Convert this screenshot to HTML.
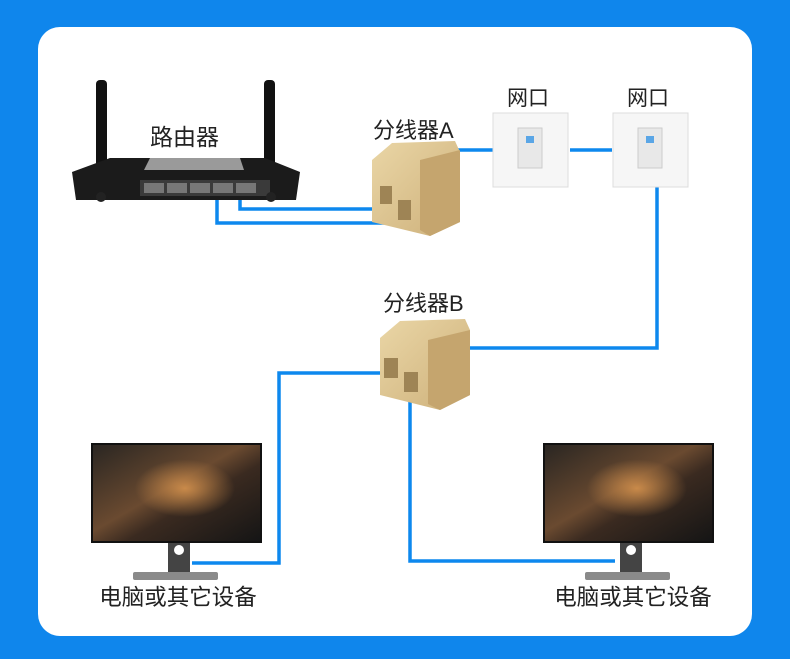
<!DOCTYPE html>
<html><head><meta charset="utf-8"><style>
html,body{margin:0;padding:0;background:#0f86ec;}
svg{display:block}
text{font-family:"Liberation Sans","Noto Sans CJK SC",sans-serif;fill:#222}
</style></head><body>
<svg width="790" height="659" viewBox="0 0 790 659" xmlns="http://www.w3.org/2000/svg">
<defs>
<linearGradient id="scr" x1="0" y1="0" x2="1" y2="1">
<stop offset="0" stop-color="#2a2622"/><stop offset="0.45" stop-color="#6a4a30"/><stop offset="0.6" stop-color="#3a2a20"/><stop offset="1" stop-color="#151515"/></linearGradient>
<radialGradient id="glow" cx="0.55" cy="0.45" r="0.3"><stop offset="0" stop-color="#c98a4a"/><stop offset="1" stop-color="#c98a4a" stop-opacity="0"/></radialGradient>
<linearGradient id="beige" x1="0" y1="0" x2="1" y2="1"><stop offset="0" stop-color="#ead6a6"/><stop offset="1" stop-color="#cdb07a"/></linearGradient>
</defs>
<rect x="0" y="0" width="790" height="659" fill="#0f86ec"/>
<rect x="38" y="27" width="714" height="609" rx="22" fill="#fff"/>

<g fill="none" stroke="#0d88ee" stroke-width="3.5">
<polyline points="240,193 240,209 390,209"/>
<polyline points="217,193 217,223 408,223"/>
<line x1="455" y1="150" x2="493" y2="150"/>
<line x1="570" y1="150" x2="612" y2="150"/>
<polyline points="657,187 657,348 470,348"/>
<polyline points="396,373 279,373 279,563 192,563"/>
<polyline points="410,385 410,561 615,561"/>
</g>

<rect x="96" y="80" width="11" height="120" rx="4" fill="#111"/>
<rect x="264" y="80" width="11" height="120" rx="4" fill="#111"/>
<polygon points="110,158 265,158 300,172 296,200 76,200 72,172" fill="#1b1b1b"/>
<polygon points="150,158 240,158 244,170 144,170" fill="#9a9a9a"/>
<rect x="140" y="180" width="130" height="16" fill="#3a3a3a"/>
<g fill="#777"><rect x="144" y="183" width="20" height="10"/><rect x="167" y="183" width="20" height="10"/><rect x="190" y="183" width="20" height="10"/><rect x="213" y="183" width="20" height="10"/><rect x="236" y="183" width="20" height="10"/></g>
<circle cx="101" cy="197" r="5" fill="#222"/><circle cx="271" cy="197" r="5" fill="#222"/>
<text x="150" y="145" font-size="23">路由器</text>

<polygon points="372,160 392,143 455,141 460,152 445,160 460,170 460,222 430,236 372,222" fill="url(#beige)"/>
<polygon points="420,160 460,150 460,222 430,236 420,230" fill="#c5a56e"/>
<rect x="380" y="186" width="12" height="18" fill="#9e8455"/>
<rect x="398" y="200" width="13" height="20" fill="#9e8455"/>
<text x="373" y="138" font-size="22">分线器A</text>

<rect x="493" y="113" width="75" height="74" fill="#f6f6f6" stroke="#ddd"/>
<rect x="518" y="128" width="24" height="40" fill="#e8e8e8" stroke="#ccc"/>
<rect x="526" y="136" width="8" height="7" fill="#5aa6e6"/>
<rect x="613" y="113" width="75" height="74" fill="#f6f6f6" stroke="#ddd"/>
<rect x="638" y="128" width="24" height="40" fill="#e8e8e8" stroke="#ccc"/>
<rect x="646" y="136" width="8" height="7" fill="#5aa6e6"/>
<text x="528" y="105" font-size="21" text-anchor="middle">网口</text>
<text x="648" y="105" font-size="21" text-anchor="middle">网口</text>

<polygon points="380,338 400,321 465,319 470,330 455,340 470,350 470,395 440,410 380,395" fill="url(#beige)"/>
<polygon points="428,340 470,330 470,395 440,410 428,404" fill="#c5a56e"/>
<rect x="384" y="358" width="14" height="20" fill="#9e8455"/>
<rect x="404" y="372" width="14" height="20" fill="#9e8455"/>
<text x="383" y="311" font-size="22">分线器B</text>

<g>
<rect x="91" y="443" width="171" height="100" fill="#111"/>
<rect x="93" y="445" width="167" height="96" fill="url(#scr)"/>
<rect x="93" y="445" width="167" height="96" fill="url(#glow)"/>
<rect x="168" y="543" width="22" height="30" fill="#444"/>
<circle cx="179" cy="550" r="5" fill="#fff"/>
<rect x="133" y="572" width="85" height="8" rx="2" fill="#8a8a8a"/>
<text x="178" y="605" font-size="22.5" text-anchor="middle">电脑或其它设备</text>
</g>
<g>
<rect x="543" y="443" width="171" height="100" fill="#111"/>
<rect x="545" y="445" width="167" height="96" fill="url(#scr)"/>
<rect x="545" y="445" width="167" height="96" fill="url(#glow)"/>
<rect x="620" y="543" width="22" height="30" fill="#444"/>
<circle cx="631" cy="550" r="5" fill="#fff"/>
<rect x="585" y="572" width="85" height="8" rx="2" fill="#8a8a8a"/>
<text x="633" y="605" font-size="22.5" text-anchor="middle">电脑或其它设备</text>
</g>
</svg>
</body></html>
